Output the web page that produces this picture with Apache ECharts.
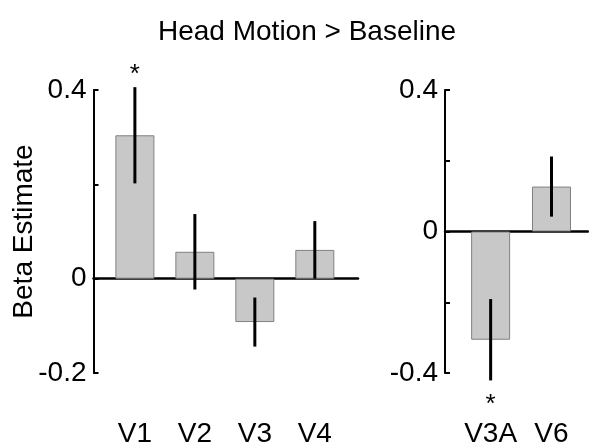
<!DOCTYPE html>
<html>
<head>
<meta charset="utf-8">
<script src="https://cdn.jsdelivr.net/npm/echarts@6/dist/echarts.min.js"></script>
<style>
  html, body { margin: 0; padding: 0; background: #fff; }
  #chart { width: 589px; height: 446px; }
</style>
</head>
<body>
<div id="chart"></div>
<script>
// left panel: early visual areas
var leftCats = ['V1', 'V2', 'V3', 'V4'];
var leftMeans = [0.304, 0.057, -0.092, 0.061];
var leftErrs = [0.102, 0.080, 0.052, 0.061];
var leftSig = ['*', '', '', ''];
// right panel
var rightCats = ['V3A', 'V6'];
var rightMeans = [-0.306, 0.127];
var rightErrs = [0.115, 0.085];
var rightSig = ['*', ''];

var FONT = '"Liberation Sans", Arial, sans-serif';
var FS = 28;

var chart = echarts.init(document.getElementById('chart'));

function barData(means) {
  return means.map(function (m, i) { return [i + 1, m]; });
}
function errData(means, errs) {
  return means.map(function (m, i) { return [i + 1, m - errs[i], m + errs[i], m]; });
}

// error bar + significance star, sig passed in by panel
function errRenderer(sig) {
  return function (params, api) {
    var x = api.value(0);
    var lo = api.coord([x, api.value(1)]);
    var hi = api.coord([x, api.value(2)]);
    var m = api.value(3);
    var s = sig[params.dataIndex];
    var children = [{
      type: 'line',
      shape: { x1: lo[0], y1: lo[1], x2: hi[0], y2: hi[1] },
      style: { stroke: '#000', lineWidth: 3 }
    }];
    if (s) {
      children.push({
        type: 'text',
        x: hi[0],
        y: m >= 0 ? hi[1] - 12 : lo[1] + 24,
        style: {
          text: s, font: '26px ' + FONT, fill: '#000',
          align: 'center', verticalAlign: 'middle'
        }
      });
    }
    return { type: 'group', children: children };
  };
}

function yAxisFor(grid, min, max, labels, withName) {
  var ax = {
    type: 'value', gridIndex: grid, min: min, max: max, interval: 0.2,
    splitLine: { show: false },
    axisLine: { show: true, lineStyle: { color: '#000', width: 2 } },
    axisTick: { show: true, inside: true, length: 5, lineStyle: { color: '#000', width: 2 } },
    axisLabel: {
      margin: 7, color: '#000', fontSize: FS, fontFamily: FONT,
      formatter: function (v) {
        var r = Math.round(v * 10) / 10;
        return labels.indexOf(r) >= 0 ? String(r) : '';
      }
    }
  };
  if (withName) {
    ax.name = 'Beta Estimate';
    ax.nameLocation = 'middle';
    ax.nameGap = 55;
    ax.nameMoveOverlap = false;
    ax.nameTextStyle = { color: '#000', fontSize: FS, fontFamily: FONT };
  }
  return ax;
}

function xAxesFor(grid, min, max, cats) {
  return [{
    type: 'value', gridIndex: grid, min: min, max: max,
    axisLine: { show: true, onZero: true, lineStyle: { color: '#000', width: 2.5 } },
    axisTick: { show: false }, axisLabel: { show: false }, splitLine: { show: false }
  }, {
    type: 'value', gridIndex: grid, min: min, max: max, position: 'bottom',
    axisLine: { show: false, onZero: false }, axisTick: { show: false }, splitLine: { show: false },
    axisLabel: {
      customValues: cats.map(function (c, i) { return i + 1; }),
      margin: 47, color: '#000', fontSize: FS, fontFamily: FONT,
      formatter: function (v) { return cats[Math.round(v) - 1] || ''; }
    }
  }];
}

var barStyle = { color: '#c8c8c8', borderColor: '#808080', borderWidth: 1 };

var option = {
  backgroundColor: '#fff',
  animation: false,
  title: {
    text: 'Head Motion > Baseline',
    left: 158, top: 18, padding: 0,
    textStyle: { color: '#000', fontSize: FS, fontWeight: 'normal', fontFamily: FONT }
  },
  grid: [
    { left: 93.5, top: 90, width: 264.5, height: 283, outerBoundsMode: 'none' },
    { left: 445, top: 90, width: 143, height: 283, outerBoundsMode: 'none' }
  ],
  xAxis: xAxesFor(0, 0.31, 4.72, leftCats).concat(xAxesFor(1, 0.25, 2.6, rightCats)),
  yAxis: [
    yAxisFor(0, -0.2, 0.4, [0.4, 0, -0.2], true),
    yAxisFor(1, -0.4, 0.4, [0.4, 0, -0.4], false)
  ],
  series: [
    { type: 'bar', xAxisIndex: 0, yAxisIndex: 0, barWidth: 39, itemStyle: barStyle, data: barData(leftMeans) },
    { type: 'custom', xAxisIndex: 0, yAxisIndex: 0, renderItem: errRenderer(leftSig), clip: false, z: 5,
      data: errData(leftMeans, leftErrs) },
    { type: 'bar', xAxisIndex: 2, yAxisIndex: 1, barWidth: 39, itemStyle: barStyle, data: barData(rightMeans) },
    { type: 'custom', xAxisIndex: 2, yAxisIndex: 1, renderItem: errRenderer(rightSig), clip: false, z: 5,
      data: errData(rightMeans, rightErrs) }
  ]
};
chart.setOption(option);
</script>
</body>
</html>
